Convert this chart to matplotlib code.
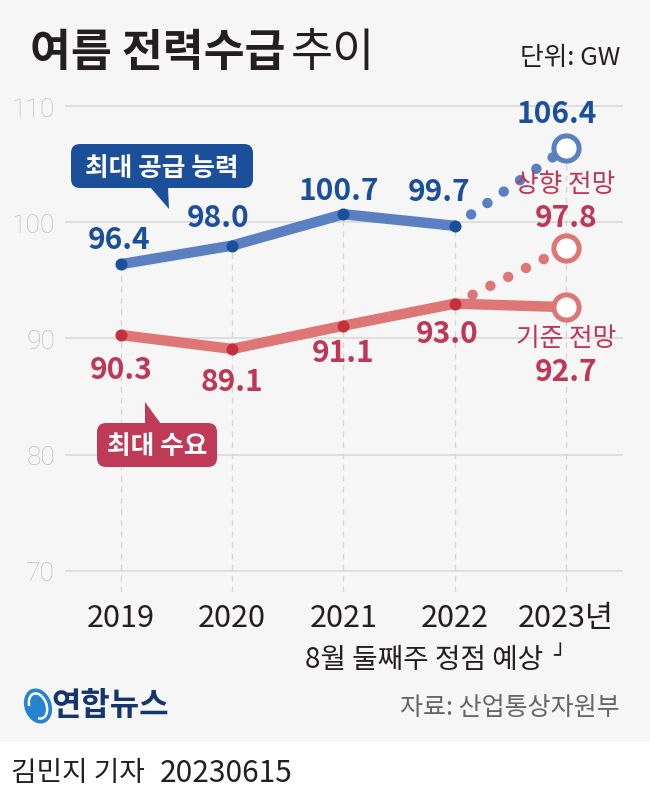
import matplotlib
matplotlib.use('Agg')
import matplotlib.pyplot as plt
from matplotlib.patches import FancyBboxPatch, Polygon, Rectangle, Ellipse, Arc
from matplotlib.transforms import Affine2D

plt.rcParams['font.family'] = ['Noto Sans CJK KR', 'DejaVu Sans']

# ---------------- data ----------------
years = ['2019', '2020', '2021', '2022', '2023년']
supply = [96.4, 98.0, 100.7, 99.7]
demand = [90.3, 89.1, 91.1, 93.0]
supply_2023 = 106.4
demand_2023_high = 97.8
demand_2023_base = 92.7
yticks = [70, 80, 90, 100, 110]

W, H, DPI = 650, 803, 100
BG = '#f6f6f6'
BLUE_LINE = '#5a80c1'
BLUE_DOT = '#1a4f9c'
BLUE_TXT = '#1b4f9b'
RED_LINE = '#df7676'
RED_DOT = '#c6303c'
RED_TXT = '#bf3656'
BOX_BLUE = '#1c4f9a'
BOX_RED = '#bf3a57'

fig = plt.figure(figsize=(W / DPI, H / DPI), dpi=DPI)
fig.patch.set_facecolor(BG)
# pixel transform (origin top-left)
px = Affine2D().scale(1 / DPI, -1 / DPI).translate(0, H / DPI) + fig.dpi_scale_trans

# white bottom strip
fig.add_artist(Rectangle((0, 743), W, 60, transform=px, facecolor='white',
                         edgecolor='none', zorder=0))

# ---------------- axes ----------------
ymin, ymax = 68.17, 112
ax = fig.add_axes([65 / W, (H - 593) / H, (623 - 65) / W, (593 - 84) / H])
ax.set_facecolor('none')
ax.set_xlim(-0.503, 4.512)
ax.set_ylim(ymin, ymax)
for s in ax.spines.values():
    s.set_visible(False)

for t in yticks:
    ax.axhline(t, color='#dcdcdc', lw=1.3, zorder=0)
ax.set_yticks(yticks)
ax.set_yticklabels([str(t) for t in yticks], fontsize=19, color='#bdbdbd',
                   family=['Roboto', 'DejaVu Sans'], fontweight='light')
ax.set_xticks(range(len(years)))
ax.set_xticklabels(years, fontsize=22, color='#231f20')
ax.tick_params(axis='both', length=0)
ax.tick_params(axis='y', pad=7)
ax.tick_params(axis='x', pad=7)

# vertical dashed guides
xs = list(range(len(supply)))
ax.vlines(xs + [4], ymin, supply + [supply_2023], colors='#d6d6d6',
          linestyles=(0, (4, 4)), lw=1.0, zorder=1)

# supply line
ax.plot(xs, supply, color=BLUE_LINE, lw=7.5, solid_capstyle='round', zorder=3)
ax.plot([3, 4], [supply[3], supply_2023], color=BLUE_LINE, lw=7.5,
        linestyle=(0, (0.01, 1.9)), dash_capstyle='round', zorder=3)
ax.scatter(xs, supply, s=75, color=BLUE_DOT, zorder=4, linewidths=0)
ax.scatter([4], [supply_2023], s=330, facecolor='white', edgecolor=BLUE_LINE,
           linewidths=3.6, zorder=5)

# demand lines
ax.plot(xs, demand, color=RED_LINE, lw=7.5, solid_capstyle='round', zorder=3)
ax.plot([3, 4], [demand[3], demand_2023_base], color=RED_LINE, lw=7.5,
        solid_capstyle='round', zorder=3)
ax.plot([3, 4], [demand[3], demand_2023_high], color=RED_LINE, lw=7.5,
        linestyle=(0, (0.01, 1.9)), dash_capstyle='round', zorder=3)
ax.scatter(xs, demand, s=75, color=RED_DOT, zorder=4, linewidths=0)
ax.scatter([4, 4], [demand_2023_high, demand_2023_base], s=330, facecolor='white',
           edgecolor=RED_LINE, linewidths=3.6, zorder=5)

# value labels
def lab(x, y, s, dx, dy, color, size=21.5, weight='bold'):
    ax.annotate(s, (x, y), xytext=(dx, dy), textcoords='offset pixels',
                ha='center', va='center', fontsize=size, fontweight=weight,
                color=color, zorder=6)

sup_off = [(-2, 25), (-14, 29), (-5, 24), (-16, 35)]
for i, v in enumerate(supply):
    lab(i, v, f'{v:.1f}', *sup_off[i], BLUE_TXT)
lab(4, supply_2023, f'{supply_2023:.1f}', -9, 35, BLUE_TXT)

dem_off = [(0, -34), (0, -32), (0, -26), (-8, -29)]
for i, v in enumerate(demand):
    lab(i, v, f'{v:.1f}', *dem_off[i], RED_TXT)
lab(4, demand_2023_high, f'{demand_2023_high:.1f}', 0, 31, RED_TXT)
lab(4, demand_2023_high, '상향 전망', -1, 64, RED_TXT, size=18.5, weight='normal')
lab(4, demand_2023_base, f'{demand_2023_base:.1f}', 0, -64, RED_TXT)
lab(4, demand_2023_base, '기준 전망', 0, -31, RED_TXT, size=18.5, weight='normal')

# ---------------- callout boxes ----------------
def callout(x0, y0, x1, y1, tri, color, text, size):
    fig.add_artist(FancyBboxPatch((x0, y0), x1 - x0, y1 - y0,
                                  boxstyle='round,pad=0,rounding_size=9',
                                  transform=px, facecolor=color, edgecolor='none', zorder=7))
    fig.add_artist(Polygon(tri, closed=True, transform=px, facecolor=color,
                           edgecolor='none', zorder=7))
    fig.text((x0 + x1) / 2, (y0 + y1) / 2 + 1, text, transform=px, ha='center',
             va='center', fontsize=size, fontweight='bold', color='white', zorder=8)

callout(71, 145, 253, 189, [(150, 188), (168, 188), (169, 210)], BOX_BLUE,
        '최대 공급 능력', 18.5)
callout(97, 424, 217, 468, [(145, 425), (161, 425), (145, 403)], BOX_RED,
        '최대 수요', 18.5)

# ---------------- texts ----------------
fig.text(30, 53, '여름 전력수급', transform=px, ha='left', va='center',
         fontsize=32, fontweight='bold', color='#231f20')
fig.text(291, 53, '추이', transform=px, ha='left', va='center',
         fontsize=33, fontweight='light', color='#231f20')
fig.text(620, 58, '단위: GW', transform=px, ha='right', va='center',
         fontsize=18.5, color='#231f20')
fig.text(543, 660, '8월 둘째주 정점 예상', transform=px, ha='right', va='center',
         fontsize=20, color='#231f20')
fig.text(566, 656, '┘', transform=px, ha='right', va='center',
         fontsize=15, color='#231f20', family=['DejaVu Sans'])
fig.text(620, 708, '자료: 산업통상자원부', transform=px, ha='right', va='center',
         fontsize=18, color='#666666')
fig.text(11, 773, '김민지 기자', transform=px, ha='left', va='center',
         fontsize=20, color='#231f20')
fig.text(160, 773, '20230615', transform=px, ha='left', va='center',
         fontsize=21.5, color='#231f20')

# logo
fig.add_artist(Ellipse((38, 707), 27, 36, angle=-20, transform=px,
                       facecolor='#2583cf', edgecolor='none', zorder=7))
fig.add_artist(Arc((38, 707), 17, 26, angle=-20, theta1=200, theta2=470,
                   transform=px, color='white', lw=1.8, zorder=8))
fig.text(51, 706, '연합뉴스', transform=px, ha='left', va='center',
         fontsize=23, fontweight='bold', color='#15366c')

fig.savefig('out.png', dpi=DPI, facecolor=BG)
